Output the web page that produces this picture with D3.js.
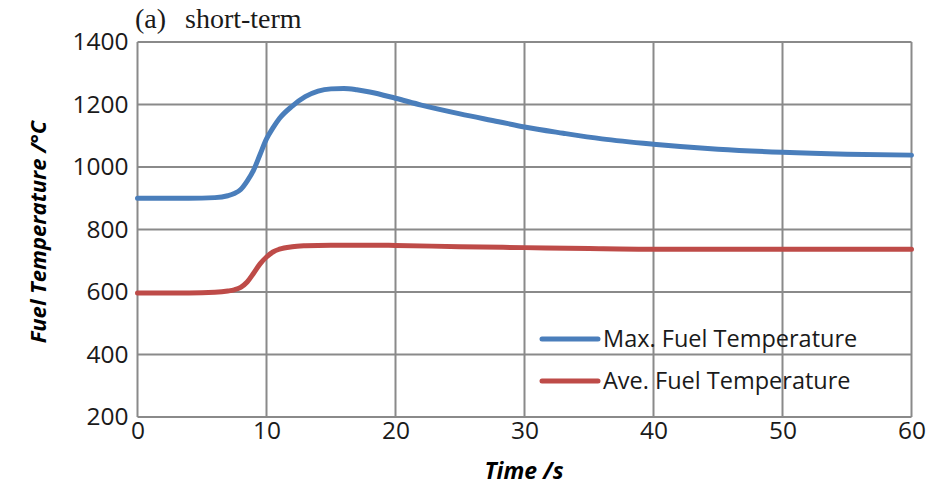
<!DOCTYPE html>
<html>
<head>
<meta charset="utf-8">
<script src="https://cdn.jsdelivr.net/npm/d3@7/dist/d3.min.js"></script>
<style>
  html, body { margin: 0; padding: 0; background: #fff; }
  svg { display: block; }
</style>
</head>
<body>
<svg id="chart" width="930" height="486"></svg>
<script>
// Fuel temperature transient, short-term window
const timeMax = [0, 2, 4, 6, 7, 7.5, 8, 8.5, 9, 9.5, 10, 10.5, 11, 12, 13, 14, 15, 16, 17, 18, 20, 22, 25, 28, 30, 33, 36, 40, 45, 50, 55, 60];
const maxTemp = [900, 900, 900, 902, 908, 915, 928, 955, 990, 1040, 1090, 1125, 1155, 1195, 1225, 1243, 1250, 1251, 1247, 1240, 1220, 1198, 1170, 1145, 1128, 1108, 1090, 1073, 1057, 1047, 1041, 1038];

const timeAve = [0, 4, 6, 7, 7.5, 8, 8.5, 9, 9.5, 10, 10.5, 11, 12, 13, 15, 18, 20, 25, 30, 35, 40, 50, 60];
const aveTemp = [597, 597, 599, 603, 607, 615, 632, 660, 690, 712, 728, 737, 745, 748, 750, 750, 749, 745, 742, 739, 737, 737, 737];

const xTicks = [0, 10, 20, 30, 40, 50, 60];
const yTicks = [200, 400, 600, 800, 1000, 1200, 1400];

const seriesNames = ["Max. Fuel Temperature", "Ave. Fuel Temperature"];
const seriesColors = ["#4a7ebb", "#be4b48"];

const svg = d3.select("#chart");
const m = { left: 137.5, right: 911.5, top: 42, bottom: 417 };

const x = d3.scaleLinear().domain([0, 60]).range([m.left, m.right]);
const y = d3.scaleLinear().domain([200, 1400]).range([m.bottom, m.top]);

const gridColor = "#8a8a8a";
const sans = "'Open Sans', Lato, sans-serif";

// grid
const grid = svg.append("g");
grid.selectAll("line.v").data(xTicks).join("line")
  .attr("x1", d => x(d)).attr("x2", d => x(d))
  .attr("y1", m.top).attr("y2", m.bottom)
  .attr("stroke", gridColor).attr("stroke-width", 2);
grid.selectAll("line.h").data(yTicks).join("line")
  .attr("x1", m.left).attr("x2", m.right)
  .attr("y1", d => y(d)).attr("y2", d => y(d))
  .attr("stroke", gridColor).attr("stroke-width", 2);

// axes (tick labels only; lines come from the grid)
const xAxis = svg.append("g")
  .attr("transform", `translate(0,${m.bottom})`)
  .call(d3.axisBottom(x).tickValues(xTicks).tickFormat(d3.format("d")).tickSize(0).tickPadding(5));
const yAxis = svg.append("g")
  .attr("transform", `translate(${m.left},0)`)
  .call(d3.axisLeft(y).tickValues(yTicks).tickFormat(d3.format("d")).tickSize(0).tickPadding(9));
[xAxis, yAxis].forEach(a => {
  a.select(".domain").remove();
  a.selectAll("text")
    .attr("font-family", sans)
    .attr("font-size", 24.5)
    .attr("fill", "#1a1a1a");
});

// curves
const line = d3.line()
  .x(d => x(d[0])).y(d => y(d[1]))
  .curve(d3.curveMonotoneX);

const maxPts = timeMax.map((t, i) => [t, maxTemp[i]]);
const avePts = timeAve.map((t, i) => [t, aveTemp[i]]);

[maxPts, avePts].forEach((pts, i) => {
  svg.append("path")
    .datum(pts)
    .attr("d", line)
    .attr("fill", "none")
    .attr("stroke", seriesColors[i])
    .attr("stroke-width", 5)
    .attr("stroke-linejoin", "round")
    .attr("stroke-linecap", "round");
});

// legend
const legend = svg.append("g");
const legendRows = [339, 381];
seriesNames.forEach((name, i) => {
  legend.append("line")
    .attr("x1", 542).attr("x2", 598)
    .attr("y1", legendRows[i]).attr("y2", legendRows[i])
    .attr("stroke", seriesColors[i]).attr("stroke-width", 5)
    .attr("stroke-linecap", "round");
  legend.append("text")
    .attr("x", 603).attr("y", legendRows[i])
    .attr("dy", "0.35em")
    .attr("font-family", sans)
    .attr("font-size", 23.5)
    .attr("fill", "#1a1a1a")
    .text(name);
});

// axis titles
svg.append("text")
  .attr("x", 524).attr("y", 479)
  .attr("text-anchor", "middle")
  .attr("font-family", sans)
  .attr("font-weight", "bold").attr("font-style", "italic")
  .attr("font-size", 23)
  .text("Time /s");

svg.append("text")
  .attr("transform", "translate(46,232) rotate(-90)")
  .attr("text-anchor", "middle")
  .attr("font-family", sans)
  .attr("font-weight", "bold").attr("font-style", "italic")
  .attr("font-size", 22)
  .text("Fuel Temperature /°C");

// panel title
const serif = "'Liberation Serif', 'Times New Roman', serif";
svg.append("text")
  .attr("x", 135).attr("y", 28)
  .attr("font-family", serif).attr("font-size", 28).attr("fill", "#1a1a1a")
  .text("(a)");
svg.append("text")
  .attr("x", 185).attr("y", 28)
  .attr("font-family", serif).attr("font-size", 28).attr("fill", "#1a1a1a")
  .text("short-term");
</script>
</body>
</html>
